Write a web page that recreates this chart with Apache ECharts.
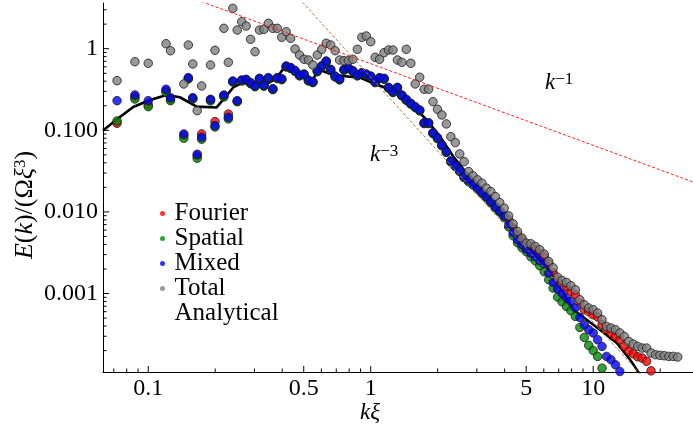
<!DOCTYPE html>
<html><head><meta charset="utf-8">
<script src="https://cdn.jsdelivr.net/npm/echarts@6/dist/echarts.min.js"></script>
<style>html,body{margin:0;padding:0;background:#fff}#c{width:693px;height:435px}</style>
</head><body><div id="c"></div>
<script>
// wavenumbers k*xi (shared by all point series)
const kValues = [0.0724,0.0871,0.1,0.1202,0.1259,0.1445,0.1514,0.1585,0.166,0.1738,0.1905,0.1995,
0.2188,0.2291,0.2399,0.2512,0.263,0.2754,0.2884,0.302,0.3162,0.3311,0.3467,0.3631,0.3802,0.3981,0.4169,0.4365,0.4571,0.4786,0.5012,0.5248,0.5495,0.5754,0.6026,0.631,0.6607,0.6918,0.7244,0.7586,0.7943,0.8318,0.871,0.912,0.955,1,
1.047,1.096,1.148,1.202,1.259,1.318,1.38,1.445,1.514,1.585,1.66,1.738,1.82,1.905,1.995,2.089,2.188,2.291,2.399,2.512,2.63,2.754,2.884,3.02,3.162,3.311,3.467,3.631,3.802,3.981,4.169,4.365,4.571,4.786,5.012,5.248,5.495,5.754,6.026,6.31,6.607,6.918,7.244,7.586,7.943,8.318,8.71,9.12,9.55,10,10.47,10.96,11.48,12.02,12.59,13.18,13.8,14.45,15.14,15.85,16.6,17.38,18.2,19.05,19.95,20.89,21.88,22.91,23.99];

const fourier = [0.122,0.256,0.205,0.304,0.240,0.0865,0.435,0.245,0.0487,0.0903,0.236,0.128,
0.265,0.158,0.396,0.227,0.408,0.416,0.378,0.347,0.428,0.352,0.436,0.319,0.436,0.423,0.605,0.580,0.533,0.470,0.483,0.408,0.389,0.530,0.610,0.697,0.552,0.456,0.420,0.552,0.577,0.530,0.470,0.502,0.483,0.456,
0.389,0.436,0.428,0.332,0.294,0.332,0.267,0.236,0.212,0.192,0.175,0.122,0.122,0.0925,0.0803,0.0654,0.0542,0.0418,0.0367,0.0318,0.0269,0.0241,0.0218,0.0195,0.0172,0.0153,0.0133,0.0115,0.0102,0.0089,
0.0080,0.00639,0.00525,0.00455,0.00396,0.00374,0.00344,0.00307,0.00282,0.00232,0.0018,0.001475,0.001281,0.001168,0.001061,0.000967,0.000765,0.000633,0.000604,0.00055,0.000516,0.000415,0.000361,0.000329,0.000298,0.000272,0.000225,0.000196,0.000183,0.000168,0.000162,0.000148,0.000113,
null,null,null,null,null,null];

const spatial = [0.130,0.242,0.195,0.293,0.231,0.0800,0.426,0.242,0.0455,0.0778,0.229,0.110,
0.256,0.138,0.391,0.224,0.402,0.410,0.373,0.342,0.422,0.347,0.430,0.315,0.430,0.417,0.597,0.572,0.526,0.464,0.476,0.402,0.384,0.523,0.602,0.687,0.544,0.450,0.414,0.544,0.569,0.523,0.464,0.495,0.476,0.450,
0.384,0.430,0.422,0.328,0.290,0.328,0.264,0.233,0.209,0.190,0.173,0.121,0.121,0.0911,0.0791,0.0645,0.0534,0.0410,0.0360,0.0312,0.0263,0.0235,0.0213,0.0190,0.0168,0.0149,0.0130,0.0112,0.00995,0.00860,
0.00657,0.0051,0.00419,0.00364,0.00325,0.00282,0.00252,0.00219,0.00185,0.001475,0.001168,0.000906,0.000793,0.000695,0.000616,0.000525,0.000385,0.00029,0.000232,0.0002,0.00017,0.000122,
null,null,null,null,null,null,null,null,null,null,null,null,null,null,null,null,null];

const mixed = [0.231,0.271,0.231,0.319,0.251,0.0903,0.442,0.251,0.051,0.0823,0.240,0.114,
0.271,0.145,0.402,0.231,0.414,0.422,0.384,0.352,0.434,0.357,0.442,0.324,0.442,0.429,0.614,0.589,0.541,0.477,0.490,0.414,0.395,0.538,0.619,0.707,0.560,0.463,0.426,0.560,0.585,0.538,0.477,0.509,0.490,0.463,
0.395,0.442,0.434,0.337,0.298,0.337,0.271,0.240,0.215,0.195,0.178,0.124,0.124,0.0937,0.0814,0.0663,0.0549,0.0422,0.0370,0.0321,0.0271,0.0242,0.0219,0.0196,0.0173,0.0154,0.0134,0.0116,0.0103,0.00896,
0.00695,0.00555,0.00455,0.00396,0.0035,0.00313,0.00284,0.00252,0.0023,0.00178,0.00137,0.00114,0.00101,0.00088,0.0008,0.00067,0.00051,0.000415,0.000361,0.000329,0.000272,0.000225,0.00017,0.000155,0.000134,0.000111,
null,null,null,null,null,null,null,null,null,null,null,null,null];

const total = [0.406,0.693,0.663,1.151,0.945,0.370,1.110,0.650,0.1742,0.3496,0.632,0.956,
1.777,0.682,3.12,1.694,2.14,1.896,1.303,0.919,1.694,1.728,2.046,1.777,1.777,1.379,1.615,1.341,0.992,0.837,0.742,0.727,0.632,0.837,0.983,1.164,1.110,0.945,0.727,0.713,0.713,0.742,0.983,1.379,1.430,1.218,
0.785,0.742,0.894,0.964,0.964,0.727,0.682,0.983,0.663,0.370,0.447,0.3185,0.3185,0.2246,0.1813,0.1543,0.1198,0.0837,0.0707,0.0514,0.0414,0.0312,0.0277,0.0247,0.0225,0.01956,0.01777,0.01543,0.01303,0.01113,
0.00896,0.00715,0.00576,0.00478,0.00415,0.00407,0.00377,0.00344,0.00304,0.00247,0.00207,0.00159,0.001446,0.001367,0.001246,0.001113,0.000839,0.000729,0.000665,0.000633,0.000577,0.000478,0.000396,0.000378,0.000361,0.000329,0.000298,0.000259,0.000241,0.000225,0.000215,0.000215,0.000187,0.000178,0.000175,0.000173,0.00017,0.00017,0.000167];

// analytical curve
const analyticK = [0.0626,0.0733,0.0856,0.1018,0.121,0.1388,0.1651,0.203,0.2411,0.277,0.305,0.3406,0.3752,0.4191,0.4809,0.5429,0.5916,0.679,0.8071,0.8951,1.027,1.18,1.452,1.786,2.049,2.352,2.702,3.101,3.815,5.028,6.185,7.1,8.147,10.02,12.77,14.65,16.25];
const analyticE = [0.0992,0.1406,0.1934,0.2356,0.2713,0.2542,0.195,0.1907,0.335,0.4081,0.3803,0.3698,0.4257,0.65,0.5,0.4138,0.5485,0.4767,0.4543,0.4442,0.3772,0.3275,0.2356,0.134,0.0837,0.0477,0.0298,0.02047,0.01164,0.00377,0.00215,0.001178,0.000633,0.000415,0.000248,0.000155,0.0001014];

// reference power laws
const slope1K = [0.15, 30];
const slope1E = [4.367, 0.02183];
const slope3K = [0.4, 18];
const slope3E = [6.969, 0.00007647];

// ticks
const xMajorTicks = [0.1, 0.5, 1, 5, 10];
const xTickLabels = ['0.1', '0.5', '1', '5', '10'];
const xMinorTicks = [0.07,0.08,0.09,0.2,0.3,0.4,0.6,0.7,0.8,0.9,2,3,4,6,7,8,9,20];
const yMajorTicks = [0.001, 0.01, 0.1, 1];
const yTickLabels = ['0.001', '0.010', '0.100', '1'];
const yMinorTicks = [0.0002,0.0003,0.0004,0.0005,0.0006,0.0007,0.0008,0.0009,0.002,0.003,0.004,0.005,0.006,0.007,0.008,0.009,0.02,0.03,0.04,0.05,0.06,0.07,0.08,0.09,0.2,0.3,0.4,0.5,0.6,0.7,0.8,0.9,2,3];

const X_MIN = 0.0626, X_MAX = 28.1, Y_MIN = 0.0001094, Y_MAX = 3.63;
const FONT = '"Liberation Serif", "Times New Roman", serif';

function pairs(ks, es) {
  const out = [];
  for (let i = 0; i < ks.length; i++) if (es[i] != null) out.push([ks[i], es[i]]);
  return out;
}

const chart = echarts.init(document.getElementById('c'), null, {renderer: 'canvas'});
const pointStyle = (c) => ({color: c, borderColor: '#1a1a1a', borderWidth: 1});

const xTickData = xMajorTicks.map(v => [v, Y_MIN, 1]).concat(xMinorTicks.map(v => [v, Y_MIN, 0]));
const yTickData = yMajorTicks.map(v => [X_MIN, v, 1]).concat(yMinorTicks.map(v => [X_MIN, v, 0]));

chart.setOption({
  animation: false,
  backgroundColor: '#fff',
  grid: {left: 103, right: 0, top: 3, bottom: 63, containLabel: false, outerBoundsMode: 'none'},
  xAxis: {
    type: 'log', logBase: 10, min: X_MIN, max: X_MAX,
    axisLine: {show: true, lineStyle: {color: '#000', width: 1}},
    axisTick: {show: false}, axisLabel: {show: false}, splitLine: {show: false}, minorTick: {show: false}
  },
  yAxis: {
    type: 'log', logBase: 10, min: Y_MIN, max: Y_MAX,
    axisLine: {show: true, lineStyle: {color: '#000', width: 1}},
    axisTick: {show: false}, splitLine: {show: false},
    axisLabel: {
      show: true, margin: 5, color: '#000', fontFamily: FONT, fontSize: 24,
      formatter: function (v) {
        for (let i = 0; i < yMajorTicks.length; i++) {
          if (Math.abs(Math.log10(v) - Math.log10(yMajorTicks[i])) < 1e-6) return yTickLabels[i];
        }
        return '';
      }
    }
  },
  legend: {
    orient: 'vertical', left: 160, top: 201, padding: 0, itemGap: 0,
    itemWidth: 14, itemHeight: 5, icon: 'circle', symbolKeepAspect: false,
    itemStyle: {borderWidth: 0},
    textStyle: {fontFamily: FONT, fontSize: 25, color: '#000', lineHeight: 23.5},
    data: ['Fourier', 'Spatial', 'Mixed', 'Total',
      {name: 'Analytical', itemStyle: {opacity: 0}, lineStyle: {opacity: 0}}],
    selectedMode: false
  },
  graphic: [
    {type: 'text', x: 25, y: 205, rotation: Math.PI / 2, style: {
      text: '{i|E}({i|k})/(Ω{i|ξ}{s|3})', fill: '#000', font: '26px ' + FONT,
      align: 'center', verticalAlign: 'middle', textAlign: 'center', textVerticalAlign: 'middle',
      rich: {i: {fontStyle: 'italic', fontSize: 26, fontFamily: FONT}, s: {fontSize: 17, fontFamily: FONT, verticalAlign: 'top'}}
    }},
    {type: 'text', x: 370, y: 413, style: {
      text: 'kξ', fill: '#000', font: 'italic 23px ' + FONT,
      align: 'center', verticalAlign: 'middle', textAlign: 'center', textVerticalAlign: 'middle'
    }},
    {type: 'text', x: 545, y: 83, style: {
      text: '{k|k}{s|−1}', fill: '#000', font: '23px ' + FONT,
      align: 'left', verticalAlign: 'middle', textAlign: 'left', textVerticalAlign: 'middle',
      rich: {k: {fontStyle: 'italic', fontSize: 23, fontFamily: FONT}, s: {fontSize: 17, fontFamily: FONT, verticalAlign: 'top'}}
    }},
    {type: 'text', x: 370, y: 155, style: {
      text: '{k|k}{s|−3}', fill: '#000', font: '23px ' + FONT,
      align: 'left', verticalAlign: 'middle', textAlign: 'left', textVerticalAlign: 'middle',
      rich: {k: {fontStyle: 'italic', fontSize: 23, fontFamily: FONT}, s: {fontSize: 17, fontFamily: FONT, verticalAlign: 'top'}}
    }}
  ],
  series: [
    {name: 'Analytical', type: 'line', data: pairs(analyticK, analyticE), showSymbol: false, symbol: 'none',
      lineStyle: {color: '#000', width: 2.6}, itemStyle: {color: '#000'}, z: 1, clip: true},
    {name: 'Fourier', type: 'scatter', data: pairs(kValues, fourier), symbol: 'circle', symbolSize: 8.5, itemStyle: pointStyle('#ff0000'), z: 2},
    {name: 'Spatial', type: 'scatter', data: pairs(kValues, spatial), symbol: 'circle', symbolSize: 8.5, itemStyle: pointStyle('#008a00'), z: 2},
    {name: 'Mixed', type: 'scatter', data: pairs(kValues, mixed), symbol: 'circle', symbolSize: 8.5, itemStyle: pointStyle('#0000ff'), z: 2},
    {name: 'Total', type: 'scatter', data: pairs(kValues, total), symbol: 'circle', symbolSize: 8.5, itemStyle: pointStyle('#808080'), z: 2},
    {name: 'k^-1', type: 'line', data: pairs(slope1K, slope1E), symbol: 'none', z: 3, clip: true,
      lineStyle: {color: '#ff2020', width: 1, type: [3, 2]}},
    {name: 'k^-3', type: 'line', data: pairs(slope3K, slope3E), symbol: 'none', z: 3, clip: true,
      lineStyle: {color: '#b07a45', width: 1, type: [3, 2]}},
    {name: 'xticks', type: 'custom', coordinateSystem: 'cartesian2d', silent: true, z: 4, clip: false,
      encode: {x: 0, y: 1}, data: xTickData,
      renderItem: function (params, api) {
        const p = api.coord([api.value(0), Y_MIN]);
        const len = api.value(2) ? 6 : 3.5;
        return {type: 'line', shape: {x1: p[0], y1: p[1], x2: p[0], y2: p[1] - len}, style: {stroke: '#000', lineWidth: 1}};
      }},
    {name: 'yticks', type: 'custom', coordinateSystem: 'cartesian2d', silent: true, z: 4, clip: false,
      encode: {x: 0, y: 1}, data: yTickData,
      renderItem: function (params, api) {
        const p = api.coord([X_MIN, api.value(1)]);
        const len = api.value(2) ? 6 : 3.5;
        return {type: 'line', shape: {x1: p[0], y1: p[1], x2: p[0] + len, y2: p[1]}, style: {stroke: '#000', lineWidth: 1}};
      }},
    {name: 'xlabels', type: 'custom', coordinateSystem: 'cartesian2d', silent: true, z: 4, clip: false,
      encode: {x: 0, y: 1}, data: xMajorTicks.map((v, i) => [v, Y_MIN, i]),
      renderItem: function (params, api) {
        const p = api.coord([api.value(0), Y_MIN]);
        return {type: 'text', x: p[0], y: p[1] + 17, style: {
          text: xTickLabels[api.value(2)], fill: '#000', font: '24px ' + FONT,
          align: 'center', verticalAlign: 'middle', textAlign: 'center', textVerticalAlign: 'middle'}};
      }}
  ]
});
</script>
</body></html>
